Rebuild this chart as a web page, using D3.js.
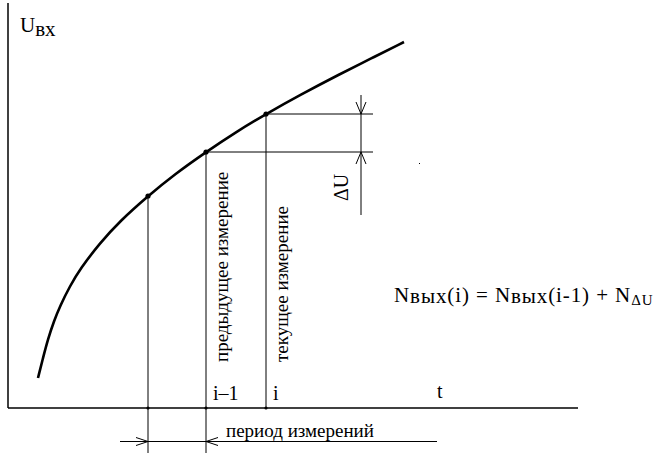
<!DOCTYPE html>
<html><head><meta charset="utf-8">
<script src="https://cdn.jsdelivr.net/npm/d3@7"></script>
<style>body{margin:0;background:#fff}svg{display:block}</style>
</head><body><svg id="c" width="664" height="463"></svg>
<script>
// curve readings: t (time, arbitrary units), U (input voltage, arbitrary units)
const curveT = [30,35,40,46,52,62,72,92,112,140,167,198,228,258,292,332,362,396];
const curveU = [30,50,69,87,102,122,139,165,187,212,234,256,276,294,313,334,349,366];
// measurement instants
const measT = [140,198,258];
const measU = [212,256,294];
const measLabels = ["", "i\u20131", "i"];
const rotLabels = ["", "предыдущее измерение", "текущее измерение"];

const FONT = "Tinos,'Liberation Serif','Times New Roman',Times,'Noto Serif','DejaVu Serif',serif";
const svg = d3.select("#c");
const x = d3.scaleLinear().domain([0,570]).range([8,578]);
const y = d3.scaleLinear().domain([0,405]).range([408,3]);
const blk = "#000";
const txt = (sel) => sel.append("text").style("font-family",FONT).attr("fill",blk);

// axes
svg.append("line").attr("x1",x(0)).attr("x2",x(0)).attr("y1",y(405)).attr("y2",y(0)).attr("stroke",blk).attr("stroke-width",1.5);
svg.append("line").attr("x1",x(0)).attr("x2",x(570)).attr("y1",y(0)).attr("y2",y(0)).attr("stroke",blk).attr("stroke-width",1.5);

// axis labels
const ul = txt(svg).attr("x",20).attr("y",32).attr("font-size",21);
ul.append("tspan").text("U");
ul.append("tspan").attr("dy",4).text("вх");
txt(svg).attr("x",437).attr("y",398).attr("font-size",20).text("t");

// curve
const pts = curveT.map((t,i)=>[t,curveU[i]]);
svg.append("path").attr("d",d3.line().x(d=>x(d[0])).y(d=>y(d[1])).curve(d3.curveBasis)(pts))
  .attr("fill","none").attr("stroke",blk).attr("stroke-width",2.6);

// vertical lines from measurement points
measT.forEach((t,i)=>{
  const bottom = i<2 ? 453 : y(0);
  svg.append("line").attr("x1",x(t)).attr("x2",x(t)).attr("y1",y(measU[i])).attr("y2",bottom).attr("stroke",blk).attr("stroke-width",1);
  svg.append("circle").attr("cx",x(t)).attr("cy",y(measU[i])).attr("r",2.6).attr("fill",blk);
  svg.append("circle").attr("cx",x(t)).attr("cy",y(0)).attr("r",1.6).attr("fill",blk);
  if (measLabels[i]) txt(svg).attr("x",x(t)+7).attr("y",400).attr("font-size",20).text(measLabels[i]);
  if (rotLabels[i]) txt(svg).attr("transform",`translate(${x(t)+22},362) rotate(-90)`).attr("font-size",19).text(rotLabels[i]);
});

// horizontal reference lines for ΔU
const dimX = 361;
[1,2].forEach(i=>{
  svg.append("line").attr("x1",x(measT[i])).attr("x2",373).attr("y1",y(measU[i])).attr("y2",y(measU[i])).attr("stroke",blk).attr("stroke-width",1);
});
svg.append("line").attr("x1",dimX).attr("x2",dimX).attr("y1",95).attr("y2",215).attr("stroke",blk).attr("stroke-width",1);
const yTop = y(measU[2]), yBot = y(measU[1]);
svg.append("path").attr("d",`M${dimX-5},${yTop-12}L${dimX},${yTop}L${dimX+5},${yTop-12}`).attr("fill","none").attr("stroke",blk);
svg.append("path").attr("d",`M${dimX-5},${yBot+12}L${dimX},${yBot}L${dimX+5},${yBot+12}`).attr("fill","none").attr("stroke",blk);
txt(svg).attr("transform",`translate(348,201) rotate(-90)`).attr("font-size",20).text("\u0394U");

// period dimension
const py = 441.5;
svg.append("line").attr("x1",120).attr("x2",437).attr("y1",py).attr("y2",py).attr("stroke",blk).attr("stroke-width",1);
const a = x(measT[0]), b = x(measT[1]);
svg.append("path").attr("d",`M${a-12},${py-4}L${a},${py}L${a-12},${py+4}`).attr("fill","none").attr("stroke",blk);
svg.append("path").attr("d",`M${b+12},${py-4}L${b},${py}L${b+12},${py+4}`).attr("fill","none").attr("stroke",blk);
txt(svg).attr("x",226).attr("y",437).attr("font-size",19).text("период измерений");

// formula
const f = txt(svg).attr("x",394).attr("y",302).attr("font-size",21).attr("letter-spacing",0.9);
f.append("tspan").text("N");
f.append("tspan").attr("dy",1).text("вых");
f.append("tspan").attr("dy",-1).text("(i) = N");
f.append("tspan").attr("dy",1).text("вых");
f.append("tspan").attr("dy",-1).text("(i-1) + N");
f.append("tspan").attr("dy",3).attr("font-size",15).text("\u0394U");

// stray dot
svg.append("rect").attr("x",419).attr("y",163).attr("width",1).attr("height",1).attr("fill",blk);
</script></body></html>
